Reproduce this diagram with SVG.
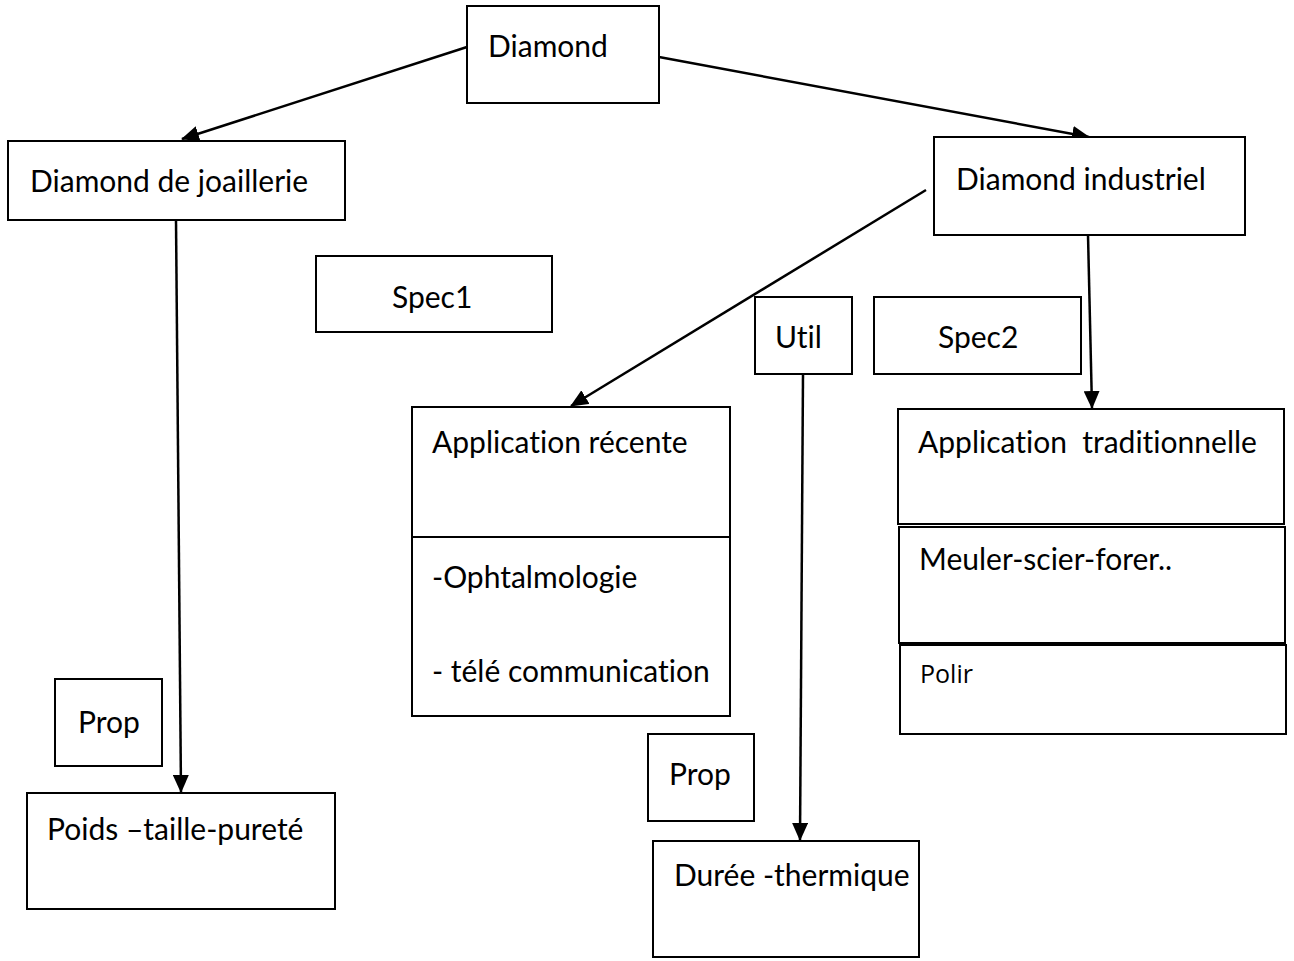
<svg xmlns="http://www.w3.org/2000/svg" width="1294" height="961" viewBox="0 0 1294 961">
<style>
.box{fill:#fff;stroke:#000;stroke-width:2}
.t{font-family:Lato,"Open Sans","DejaVu Sans",sans-serif;font-size:30px;fill:#000;font-variant-ligatures:none}
.s{font-family:"Open Sans","Liberation Sans",sans-serif;font-size:25px;fill:#000}
.c{stroke:#000;stroke-width:2.5;fill:none;marker-end:url(#ah)}
</style>
<defs>
<marker id="ah" markerWidth="18" markerHeight="16" refX="17" refY="8" orient="auto" markerUnits="userSpaceOnUse">
<path d="M0,0 L18,8 L0,16 Z" fill="#000"/>
</marker>
</defs>
<rect width="1294" height="961" fill="#fff"/>
<g id="connectors">
<line class="c" x1="467" y1="47" x2="182" y2="139"/>
<line class="c" x1="659" y1="57" x2="1089" y2="137"/>
<line class="c" x1="176" y1="220" x2="181" y2="792"/>
<line class="c" x1="926" y1="190" x2="571" y2="406"/>
<line class="c" x1="1088" y1="235" x2="1092" y2="408"/>
<line class="c" x1="803" y1="374" x2="800" y2="840"/>
</g>
<g id="diamond"><rect class="box" x="467" y="6" width="192" height="97"/><text class="t" x="488" y="57">Diamond</text></g>
<g id="joaillerie"><rect class="box" x="8" y="141" width="337" height="79"/><text class="t" x="30" y="192">Diamond de joaillerie</text></g>
<g id="industriel"><rect class="box" x="934" y="137" width="311" height="98"/><text class="t" x="956" y="190">Diamond industriel</text></g>
<g id="spec1"><rect class="box" x="316" y="256" width="236" height="76"/><text class="t" x="392" y="308">Spec1</text></g>
<g id="util"><rect class="box" x="755" y="297" width="97" height="77"/><text class="t" x="775" y="348">Util</text></g>
<g id="spec2"><rect class="box" x="874" y="297" width="207" height="77"/><text class="t" x="938" y="348">Spec2</text></g>
<g id="app-recente"><rect class="box" x="412" y="407" width="318" height="309"/><line x1="412" y1="537" x2="730" y2="537" stroke="#000" stroke-width="2"/><text class="t" x="432" y="453">Application récente</text><text class="t" x="432" y="588">-Ophtalmologie</text><text class="t" x="432" y="682">- télé communication</text></g>
<g id="app-trad"><rect class="box" x="898" y="409" width="386" height="115"/><text class="t" x="918" y="453">Application&#160; traditionnelle</text></g>
<g id="meuler"><rect class="box" x="899" y="527" width="386" height="116"/><text class="t" x="919" y="570">Meuler-scier-forer..</text></g>
<g id="polir"><rect class="box" x="900" y="645" width="386" height="89"/><text class="s" x="920" y="683">Polir</text></g>
<g id="prop1"><rect class="box" x="55" y="679" width="107" height="87"/><text class="t" x="78" y="733">Prop</text></g>
<g id="poids"><rect class="box" x="27" y="793" width="308" height="116"/><text class="t" x="47" y="840">Poids –taille-pureté</text></g>
<g id="prop2"><rect class="box" x="648" y="734" width="106" height="87"/><text class="t" x="669" y="785">Prop</text></g>
<g id="duree"><rect class="box" x="653" y="841" width="266" height="116"/><text class="t" x="674" y="886">Durée -thermique</text></g>
</svg>
